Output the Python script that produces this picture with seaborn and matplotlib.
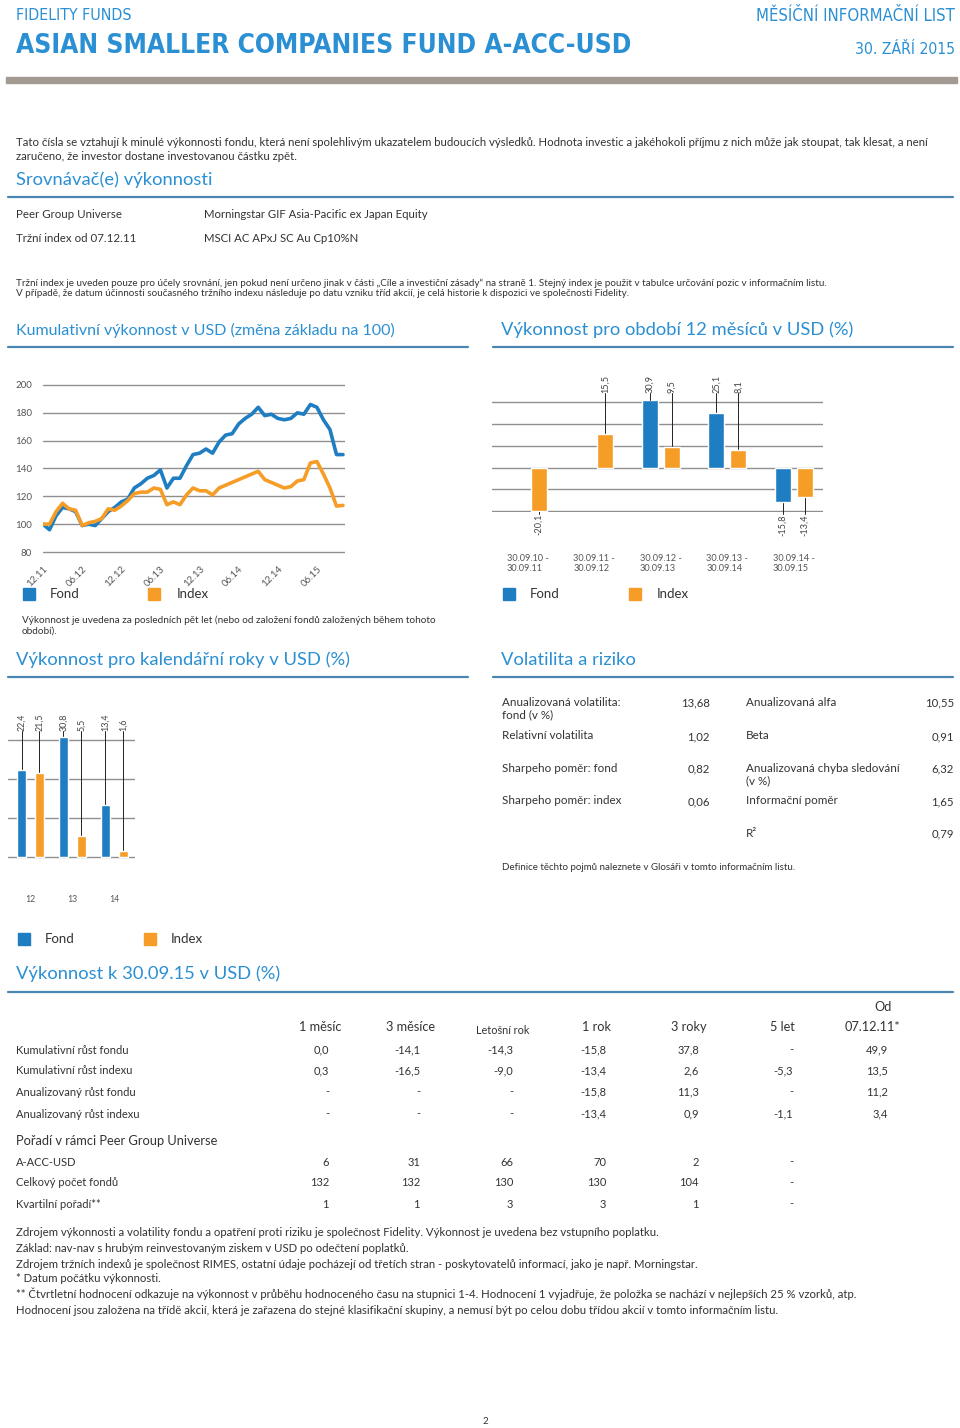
import matplotlib
matplotlib.use("Agg")
import matplotlib.pyplot as plt
import seaborn as sns
import pandas as pd
import numpy as np
from matplotlib.patches import Rectangle
from matplotlib.lines import Line2D

# ---------------- data ----------------
line_tick_labels = ["12.11", "06.12", "12.12", "06.13", "12.13", "06.14", "12.14", "06.15"]
fund_cum = [100, 96, 106, 112, 111, 109, 99, 100, 99, 104, 109, 112, 116, 118, 126, 129,
            133, 135, 139, 126, 133, 133, 142, 150, 151, 154, 151, 159, 164, 165, 172, 176,
            179, 184, 178, 179, 176, 175, 176, 180, 179, 186, 184, 175, 168, 150, 150]
index_cum = [100, 100, 109, 115, 111, 110, 99, 101, 102, 104, 111, 110, 113, 117, 122, 123,
             123, 126, 125, 114, 116, 114, 121, 126, 124, 124, 121, 126, 128, 130, 132, 134,
             136, 138, 132, 130, 128, 126, 127, 131, 132, 144, 145, 136, 126, 113, 113.5]

period_labels = ["30.09.10 -\n30.09.11", "30.09.11 -\n30.09.12", "30.09.12 -\n30.09.13",
                 "30.09.13 -\n30.09.14", "30.09.14 -\n30.09.15"]
fund_12m = [None, None, 30.9, 25.1, -15.8]
index_12m = [-20.1, 15.5, 9.5, 8.1, -13.4]

cal_years = ["12", "13", "14"]
fund_cal = [22.4, 30.8, 13.4]
index_cal = [21.5, 5.5, 1.6]

series_names = ["Fond", "Index"]

vol_left = [("Anualizovaná volatilita:\nfond (v %)", "13,68"), ("Relativní volatilita", "1,02"),
            ("Sharpeho poměr: fond", "0,82"), ("Sharpeho poměr: index", "0,06")]
vol_right = [("Anualizovaná alfa", "10,55"), ("Beta", "0,91"),
             ("Anualizovaná chyba sledování\n(v %)", "6,32"), ("Informační poměr", "1,65"),
             ("R²", "0,79")]

perf_headers = ["1 měsíc", "3 měsíce", "Letošní rok", "1 rok", "3 roky", "5 let", "Od\n07.12.11*"]
perf_rows = [
    ("Kumulativní růst fondu", ["0,0", "-14,1", "-14,3", "-15,8", "37,8", "-", "49,9"]),
    ("Kumulativní růst indexu", ["0,3", "-16,5", "-9,0", "-13,4", "2,6", "-5,3", "13,5"]),
    ("Anualizovaný růst fondu", ["-", "-", "-", "-15,8", "11,3", "-", "11,2"]),
    ("Anualizovaný růst indexu", ["-", "-", "-", "-13,4", "0,9", "-1,1", "3,4"]),
]
rank_rows = [
    ("A-ACC-USD", ["6", "31", "66", "70", "2", "-", ""]),
    ("Celkový počet fondů", ["132", "132", "130", "130", "104", "-", ""]),
    ("Kvartilní pořadí**", ["1", "1", "3", "3", "1", "-", ""]),
]

footnotes = [
    "Zdrojem výkonnosti a volatility fondu a opatření proti riziku je společnost Fidelity. Výkonnost je uvedena bez vstupního poplatku.",
    "Základ: nav-nav s hrubým reinvestovaným ziskem v USD po odečtení poplatků.",
    "Zdrojem tržních indexů je společnost RIMES, ostatní údaje pocházejí od třetích stran - poskytovatelů informací, jako je např. Morningstar.",
    "* Datum počátku výkonnosti.",
    "** Čtvrtletní hodnocení odkazuje na výkonnost v průběhu hodnoceného času na stupnici 1-4. Hodnocení 1 vyjadřuje, že položka se nachází v nejlepších 25 % vzorků, atp.",
    "Hodnocení jsou založena na třídě akcií, která je zařazena do stejné klasifikační skupiny, a nemusí být po celou dobu třídou akcií v tomto informačním listu.",
]

# ---------------- style ----------------
sns.set_theme(style="white")
plt.rcParams["font.family"] = ["Lato", "DejaVu Sans"]
COND = ["DejaVu Sans"]

BLUE = "#1f7dc2"
ORANGE = "#f59d26"
HEAD_BLUE = "#2a8fd3"
RULE = "#4a86b2"
TXT = "#333333"
GRID = "#8f8f8f"

W, H = 960, 1428
fig = plt.figure(figsize=(W / 100, H / 100), dpi=100)
fig.patch.set_facecolor("white")


def fx(x):
    return x / W


def fy(y):
    return 1 - y / H


def T(x, y, s, size=7.5, color=TXT, ha="left", va="center", **kw):
    return fig.text(fx(x), fy(y), s, fontsize=size, color=color, ha=ha, va=va, **kw)


def fit(t, width_px):
    r = fig.canvas.get_renderer()
    w = t.get_window_extent(renderer=r).width
    t.set_fontsize(t.get_fontsize() * width_px / w)


def rule(x0, x1, y, color=RULE, lw=1.6):
    fig.add_artist(Line2D([fx(x0), fx(x1)], [fy(y), fy(y)], color=color, lw=lw,
                          transform=fig.transFigure))


def square(x, y, c, s=12):
    fig.add_artist(Rectangle((fx(x), fy(y + s)), s / W, s / H, color=c,
                             transform=fig.transFigure))


def rect_px(l, t, r, b):
    return [l / W, 1 - b / H, (r - l) / W, (b - t) / H]


def fmt(v):
    return f"{v:.1f}".replace(".", ",")


# ---------------- header ----------------
t = T(16, 16, "FIDELITY FUNDS", size=11.5, color=HEAD_BLUE, family=COND, stretch="condensed")
fit(t, 116)
t = T(16, 46, "ASIAN SMALLER COMPANIES FUND A-ACC-USD", size=25, color=HEAD_BLUE,
      family=COND, stretch="condensed", weight="bold")
fit(t, 618)
t = T(955, 16, "MĚSÍČNÍ INFORMAČNÍ LIST", size=12, color=HEAD_BLUE, ha="right",
      family=COND, stretch="condensed")
fit(t, 198)
t = T(955, 50, "30. ZÁŘÍ 2015", size=12.5, color=HEAD_BLUE, ha="right",
      family=COND, stretch="condensed")
fit(t, 100)
fig.add_artist(Rectangle((fx(6), fy(83)), (957 - 6) / W, 6 / H, color="#a39a92",
                         transform=fig.transFigure))

T(16, 143, "Tato čísla se vztahují k minulé výkonnosti fondu, která není spolehlivým ukazatelem budoucích výsledků. "
           "Hodnota investic a jakéhokoli příjmu z nich může jak stoupat, tak klesat, a není", size=8.2)
T(16, 157, "zaručeno, že investor dostane investovanou částku zpět.", size=8.2)

T(16, 180, "Srovnávač(e) výkonnosti", size=13.2, color=HEAD_BLUE)
rule(8, 953, 197)
T(16, 215, "Peer Group Universe", size=8.3)
T(204, 215, "Morningstar GIF Asia-Pacific ex Japan Equity", size=8.2)
T(16, 238, "Tržní index od 07.12.11", size=8.3)
T(204, 238, "MSCI AC APxJ SC Au Cp10%N", size=8.2)
T(16, 283, "Tržní index je uveden pouze pro účely srovnání, jen pokud není určeno jinak v části „Cíle a investiční zásady“ "
           "na straně 1. Stejný index je použit v tabulce určování pozic v informačním listu.", size=7.15)
T(16, 293, "V případě, že datum účinnosti současného tržního indexu následuje po datu vzniku tříd akcií, "
           "je celá historie k dispozici ve společnosti Fidelity.", size=7.15)

# section titles
T(16, 330, "Kumulativní výkonnost v USD (změna základu na 100)", size=11.5, color=HEAD_BLUE)
rule(8, 468, 347)
T(501, 330, "Výkonnost pro období 12 měsíců v USD (%)", size=13.2, color=HEAD_BLUE)
rule(493, 953, 347)
T(16, 660, "Výkonnost pro kalendářní roky v USD (%)", size=13.2, color=HEAD_BLUE)
rule(8, 468, 677)
T(501, 660, "Volatilita a riziko", size=13.2, color=HEAD_BLUE)
rule(493, 953, 677)
T(16, 974, "Výkonnost k 30.09.15 v USD (%)", size=13.2, color=HEAD_BLUE)
rule(8, 953, 992)

# ---------------- cumulative line chart ----------------
ppu = (552 - 385) / 120.0
ax1 = fig.add_axes(rect_px(43, 385 - 2 * ppu, 345, 552 + 2 * ppu))
n = len(fund_cum)
df_line = pd.DataFrame({
    "i": list(range(n)) * 2,
    "value": fund_cum + index_cum,
    "series": ["Fond"] * n + ["Index"] * n,
})
for g in range(80, 201, 20):
    ax1.axhline(g, color=GRID, lw=1.0, zorder=0)
sns.lineplot(data=df_line, x="i", y="value", hue="series", hue_order=series_names,
             palette=[BLUE, ORANGE], lw=2.6, legend=False, ax=ax1, zorder=3)
ax1.set_xlim(0, (345 - 43) / ((343 - 43) / (n - 1)))
ax1.set_ylim(78, 202)
ax1.set_yticks(range(80, 201, 20))
ax1.set_yticklabels([str(v) for v in range(80, 201, 20)], fontsize=7, color="#555555")
ax1.set_xticks(list(range(0, 6 * len(line_tick_labels), 6)))
ax1.set_xticklabels(line_tick_labels, rotation=45, ha="right", rotation_mode="anchor",
                    fontsize=7, color="#555555")
ax1.tick_params(axis="y", length=0, pad=8)
ax1.tick_params(axis="x", length=0, pad=7)
ax1.set_xlabel("")
ax1.set_ylabel("")
for s in ax1.spines.values():
    s.set_visible(False)
ax1.patch.set_alpha(0)

square(23, 588, BLUE)
T(50, 594, "Fond", size=9.5)
square(148, 588, ORANGE)
T(177, 594, "Index", size=9.5)
T(22, 620, "Výkonnost je uvedena za posledních pět let (nebo od založení fondů založených během tohoto", size=7.2)
T(22, 631, "období).", size=7.2)

# ---------------- 12-month bar chart ----------------
rows = []
for p, f, ix in zip(period_labels, fund_12m, index_12m):
    if f is not None:
        rows.append((p, "Fond", f))
    if ix is not None:
        rows.append((p, "Index", ix))
df12 = pd.DataFrame(rows, columns=["period", "series", "value"])
ppu2 = (511 - 402.3) / 50.0
ax2 = fig.add_axes(rect_px(492, 402.3 - 0.5 * ppu2, 823, 511 + 0.5 * ppu2))
for g in range(-20, 31, 10):
    ax2.axhline(g, color=GRID, lw=1.0, zorder=0)
sns.barplot(data=df12, x="period", y="value", hue="series", hue_order=series_names,
            order=period_labels, palette=[BLUE, ORANGE], width=0.66, gap=0.27,
            saturation=1, legend=False, ax=ax2, zorder=3)
ax2.set_xlim(-0.54, 4.44)
ax2.set_ylim(-20.5, 30.5)
ax2.set_yticks([])
ax2.tick_params(axis="x", length=0, pad=30, labelsize=6.6, labelcolor="#555555")
for t in ax2.get_xticklabels():
    t.set_multialignment("left")
ax2.set_xlabel("")
ax2.set_ylabel("")
for s in ax2.spines.values():
    s.set_visible(False)
ax2.patch.set_alpha(0)


def label_bars(ax, top_px, bot_px, size):
    inv = ax.transData.inverted()
    y_top = inv.transform(fig.transFigure.transform((0, fy(top_px))))[1]
    y_bot = inv.transform(fig.transFigure.transform((0, fy(bot_px))))[1]
    for p in ax.patches:
        h = p.get_height()
        if np.isnan(h):
            continue
        xc = p.get_x() + p.get_width() / 2
        if h >= 0:
            ax.plot([xc, xc], [h, y_top], color="#222222", lw=0.7, clip_on=False, zorder=2)
            ax.text(xc, y_top, fmt(h), rotation=90, ha="center", va="bottom",
                    fontsize=size, color="#444444", clip_on=False)
        else:
            ax.plot([xc, xc], [h, y_bot], color="#222222", lw=0.7, clip_on=False, zorder=2)
            ax.text(xc, y_bot, fmt(h), rotation=90, ha="center", va="top",
                    fontsize=size, color="#444444", clip_on=False)


fig.canvas.draw()
label_bars(ax2, 393, 514, 6.6)

square(503, 588, BLUE)
T(530, 594, "Fond", size=9.5)
square(629, 588, ORANGE)
T(657, 594, "Index", size=9.5)

# ---------------- calendar year chart ----------------
rows = []
for yv, f, ix in zip(cal_years, fund_cal, index_cal):
    rows.append((yv, "Fond", f))
    rows.append((yv, "Index", ix))
dfc = pd.DataFrame(rows, columns=["year", "series", "value"])
ppu3 = (857 - 740) / 30.0
ax3 = fig.add_axes(rect_px(8, 740 - 2 * ppu3, 135, 857 + 0.5 * ppu3))
for g in range(0, 31, 10):
    ax3.axhline(g, color=GRID, lw=1.0, zorder=0)
sns.barplot(data=dfc, x="year", y="value", hue="series", hue_order=series_names,
            order=cal_years, palette=[BLUE, ORANGE], width=0.857, gap=0.5,
            saturation=1, legend=False, ax=ax3, zorder=3)
ax3.set_xlim(-0.536, 2.49)
ax3.set_ylim(-0.5, 32)
ax3.set_yticks([])
ax3.tick_params(axis="x", length=0, pad=26, labelsize=6.3, labelcolor="#555555")
ax3.set_xlabel("")
ax3.set_ylabel("")
for s in ax3.spines.values():
    s.set_visible(False)
ax3.patch.set_alpha(0)
fig.canvas.draw()
label_bars(ax3, 731, 900, 6.4)

square(18, 933, BLUE)
T(45, 939, "Fond", size=9.5)
square(144, 933, ORANGE)
T(171, 939, "Index", size=9.5)

# ---------------- volatility table ----------------
vol_left_y = [703, 737, 769, 802]
vol_right_y = [703, 737, 769, 802, 834]
for (lab, val), y in zip(vol_left, vol_left_y):
    T(502, y - 6.5, lab, size=8.4, va="top", linespacing=1.2)
    T(710, y, val, size=8.2, ha="right")
for (lab, val), y in zip(vol_right, vol_right_y):
    T(746, y - 6.5, lab, size=8.4, va="top", linespacing=1.2)
    T(954, y, val, size=8.2, ha="right")
T(502, 868, "Definice těchto pojmů naleznete v Glosáři v tomto informačním listu.", size=7.0)

# ---------------- performance table ----------------
col_right = [329, 420, 513, 606, 699, 793, 888]
head_center = [320, 411, 503, 596, 689, 782, 872]
for h, xc in zip(perf_headers, head_center):
    if "\n" in h:
        top, bottom = h.split("\n")
        T(883, 1007, top, size=9.2, ha="center")
        T(xc, 1027, bottom, size=9.2, ha="center")
    elif h == "Letošní rok":
        T(xc, 1030, h, size=7.8, ha="center")
    else:
        T(xc, 1027, h, size=9.2, ha="center")

for (lab, vals), y in zip(perf_rows, [1050, 1071, 1092, 1114]):
    T(16, y, lab, size=8.0)
    for v, xr in zip(vals, col_right):
        T(xr, y, v, size=8.0, ha="right")
T(16, 1141, "Pořadí v rámci Peer Group Universe", size=9.3)
for (lab, vals), y in zip(rank_rows, [1162, 1183, 1204]):
    T(16, y, lab, size=8.0)
    for v, xr in zip(vals, col_right):
        if v:
            T(xr, y, v, size=8.0, ha="right")

for s, y in zip(footnotes, [1232, 1248, 1264, 1279, 1294, 1310]):
    T(16, y, s, size=8.2)

T(485, 1421, "2", size=7, ha="center")

fig.savefig("out.png", dpi=100, facecolor="white")
